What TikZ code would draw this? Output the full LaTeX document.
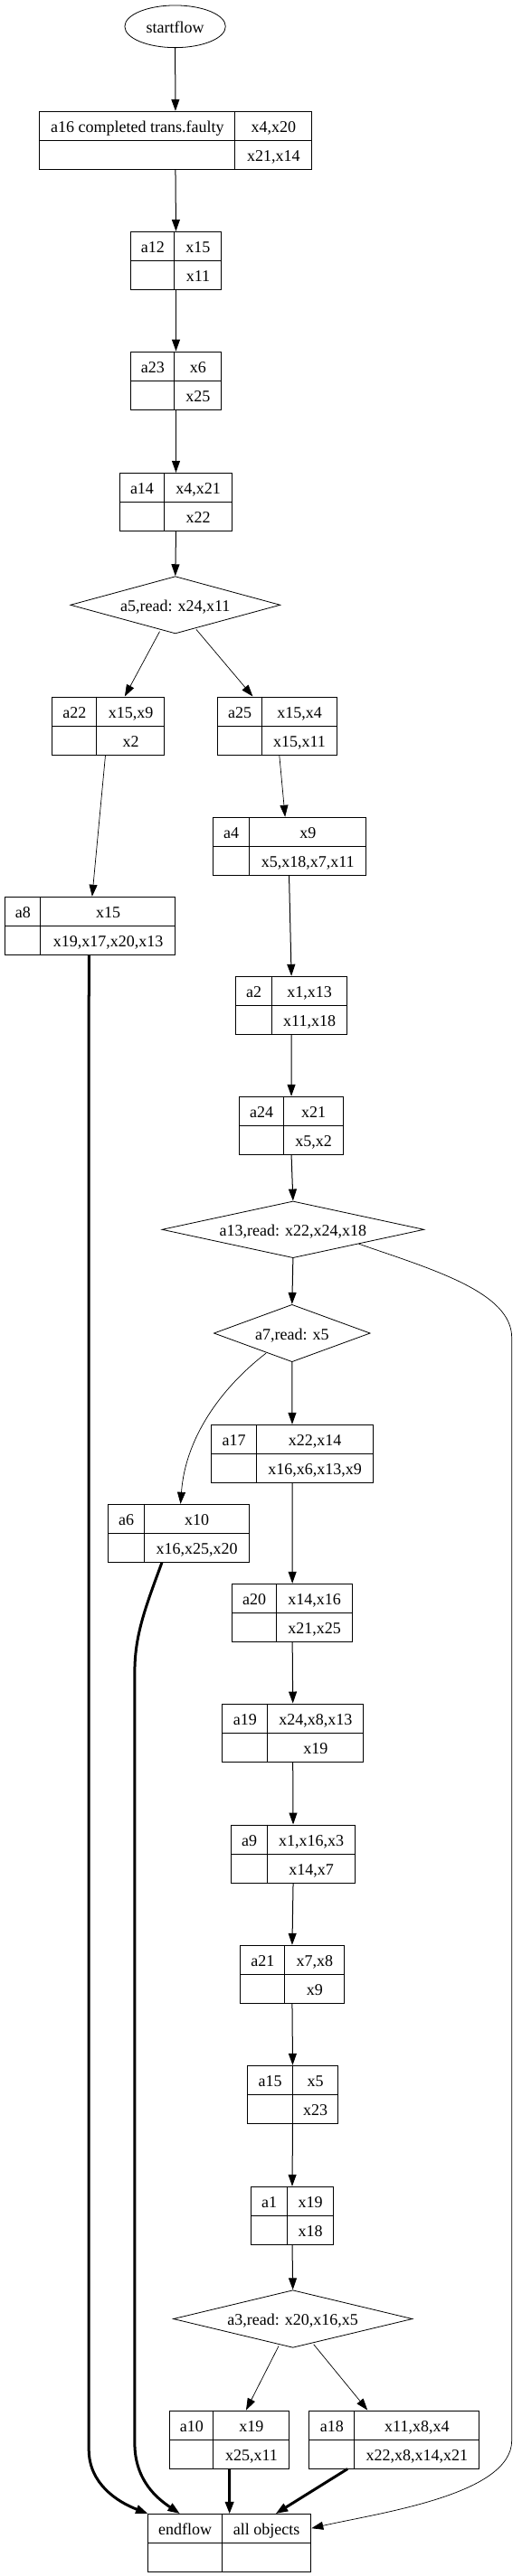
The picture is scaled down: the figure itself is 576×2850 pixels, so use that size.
\documentclass[tikz,border=0pt]{standalone}
\usepackage{fontspec}
\setmainfont{Liberation Serif}
\usetikzlibrary{arrows.meta,shapes.geometric,calc}
\tikzset{
  recbox/.style={draw, line width=1pt, rectangle, inner sep=0pt},
  recline/.style={line width=1pt},
  celltext/.style={inner sep=0pt, text height=14pt, text depth=0pt},
  decision/.style={draw, diamond, line width=0.8pt, inner sep=0pt, text height=14pt, text depth=0pt},
  terminal/.style={draw, ellipse, line width=0.8pt, inner sep=0pt, text height=14pt, text depth=0pt},
  flow/.style={line width=1pt, -{Triangle[length=13pt,width=9pt]}},
  thinflow/.style={line width=0.7pt, -{Triangle[length=13pt,width=9pt,line width=0.7pt]}},
  heavyflow/.style={line width=3pt, -{Triangle[length=13pt,width=10pt,line width=1pt]}},
}
\newcommand\recnode[9]{%
  \pgfmathsetmacro\recW{#3-#2}%
  \pgfmathsetmacro\recH{#5-#4}%
  \pgfmathsetmacro\recCX{(#2+#3)/2}%
  \pgfmathsetmacro\recCY{(#4+#5)/2}%
  \pgfmathsetmacro\recDL{#6-#2}%
  \pgfmathsetmacro\recLX{(#2+#6)/2}%
  \pgfmathsetmacro\recRX{(#6+#3)/2}%
  \pgfmathsetmacro\recYA{#4+\recH/4}%
  \pgfmathsetmacro\recYB{#4+3*\recH/4}%
  \node[recbox, minimum width=\recW pt, minimum height=\recH pt] (#1) at (\recCX,\recCY) {};
  \draw[recline] (#1.west) -- (#1.east);
  \draw[recline] ([xshift=\recDL pt]#1.north west) -- ([xshift=\recDL pt]#1.south west);
  \node[celltext] (#1-l) at (\recLX,\recYA) {#7};
  \node[celltext] (#1-r) at (\recRX,\recYA) {#8};
  \node[celltext] (#1-s) at (\recRX,\recYB) {#9};
}
\begin{document}
\begin{tikzpicture}[x=1pt, y=-1pt, font=\fontsize{18}{20}\selectfont]
\fill[white] (0,0) rectangle (576,2850);
\useasboundingbox (0,0) rectangle (576,2850);

\node[terminal, minimum width=111.4pt, minimum height=46.7pt] (startflow) at (193.6,29.3) {startflow};

\recnode{a16}{43.4}{344.5}{123.3}{187.3}{260.3}{a16 completed trans.faulty}{x4,x20}{x21,x14}
\recnode{a12}{144.5}{244.5}{256.3}{320.3}{193.4}{a12}{x15}{x11}
\recnode{a23}{144.5}{244.5}{389}{453.3}{193.4}{a23}{x6}{x25}
\recnode{a14}{132.4}{256.6}{523.3}{587.3}{181.6}{a14}{x4,x21}{x22}
\node[decision, shape aspect=3.67, minimum width=232pt, minimum height=63.3pt] (a5) at (193.8,669.3) {a5,read: x24,x11};
\recnode{a22}{57.4}{181.6}{771}{835.3}{107.4}{a22}{x15,x9}{x2}
\recnode{a25}{240.4}{372.4}{771}{835.3}{289.7}{a25}{x15,x4}{x15,x11}
\recnode{a4}{235.3}{404.8}{904.3}{968.3}{275.7}{a4}{x9}{x5,x18,x7,x11}
\recnode{a8}{5.5}{193.8}{992.3}{1056.3}{45.2}{a8}{x15}{x19,x17,x20,x13}
\recnode{a2}{260.7}{383.5}{1080.3}{1144.3}{300.7}{a2}{x1,x13}{x11,x18}
\recnode{a24}{264.7}{379.4}{1213.3}{1277}{313.6}{a24}{x21}{x5,x2}
\node[decision, shape aspect=4.62, minimum width=289.8pt, minimum height=62.7pt] (a13) at (323.9,1360.3) {a13,read: x22,x24,x18};
\node[decision, shape aspect=2.73, minimum width=172.8pt, minimum height=63.4pt] (a7) at (322.8,1475) {a7,read: x5};
\recnode{a17}{233.5}{412.5}{1576.3}{1640.3}{283.8}{a17}{x22,x14}{x16,x6,x13,x9}
\recnode{a6}{119.5}{275.4}{1664.3}{1728.3}{159.6}{a6}{x10}{x16,x25,x20}
\recnode{a20}{256.6}{389.7}{1752.3}{1816.3}{305.5}{a20}{x14,x16}{x21,x25}
\recnode{a19}{245.6}{401.8}{1885}{1949.3}{296}{a19}{x24,x8,x13}{x19}
\recnode{a9}{255.5}{392.6}{2019}{2083.3}{295.6}{a9}{x1,x16,x3}{x14,x7}
\recnode{a21}{265.4}{380.5}{2152.3}{2216}{315.4}{a21}{x7,x8}{x9}
\recnode{a15}{273.5}{373.5}{2285.3}{2349.3}{323.5}{a15}{x5}{x23}
\recnode{a1}{277.6}{368.4}{2419.3}{2483.3}{317.6}{a1}{x19}{x18}
\node[decision, shape aspect=4.16, minimum width=264.4pt, minimum height=63.6pt] (a3) at (323.7,2565.5) {a3,read: x20,x16,x5};
\recnode{a10}{187.5}{319.5}{2667}{2731}{236.4}{a10}{x19}{x25,x11}
\recnode{a18}{341.9}{529.8}{2667}{2731}{391.9}{a18}{x11,x8,x4}{x22,x8,x14,x21}
\recnode{endflow}{163.6}{343.8}{2781.3}{2845}{245.6}{endflow}{all objects}{}

% route points
\coordinate (r1) at (565.7,1480);
\coordinate (r2) at (565.7,2700);
\coordinate (t8) at (98.2,2710);
\coordinate (t6a) at (148.9,1850);
\coordinate (t6b) at (148.9,2703);

% main chain
\draw[flow] (startflow.south) -- (a16.north);
\draw[flow] (a16.south) -- (a12.north);
\draw[flow] (a12.south) -- (a23.north);
\draw[flow] (a23.south) -- (a14.north);
\draw[flow] (a14.south) -- (a5.north);
\draw[thinflow] ([xshift=-17.3pt,yshift=2.7pt]a5.south) -- ([xshift=18.4pt]a22.north);
\draw[thinflow] ([xshift=23.1pt,yshift=5pt]a5.south) -- ([xshift=-27pt]a25.north);
\draw[thinflow] ([xshift=2.4pt]a25.south) -- ([xshift=-4.9pt]a4.north);
\draw[thinflow] ([xshift=-3pt]a22.south) -- ([xshift=2.2pt]a8.north);
\draw[flow] ([xshift=-0.5pt]a4.south) -- (a2.north);
\draw[flow] (a2.south) -- (a24.north);
\draw[flow] (a24.south) -- (a13.north);
\draw[flow] (a13.south) -- (a7.north);
\draw[thinflow] (a13.south east) .. controls (480,1405) and (565.7,1430) .. (r1) -- (r2)
  .. controls (565.7,2760) and (420,2780) .. ([yshift=16pt]endflow.east);
\draw[thinflow] ([xshift=-28.7pt,yshift=10pt]a7.south) .. controls (245,1535) and (205,1590) .. ([xshift=2.1pt]a6.north);
\draw[flow] (a7.south) -- (a17.north);
\draw[flow] (a17.south) -- (a20.north);
\draw[flow] (a20.south) -- (a19.north);
\draw[flow] (a19.south) -- (a9.north);
\draw[flow] (a9.south) -- (a21.north);
\draw[flow] (a21.south) -- (a15.north);
\draw[flow] (a15.south) -- (a1.north);
\draw[flow] (a1.south) -- (a3.north);
\draw[thinflow] ([xshift=-15.6pt,yshift=2.3pt]a3.south) -- ([xshift=18.5pt]a10.north);
\draw[thinflow] ([xshift=23pt,yshift=4pt]a3.south) -- ([xshift=-29.6pt]a18.north);

% heavy edges into endflow
\draw[heavyflow] ([xshift=-1.4pt]a8.south) -- (t8) .. controls (98.2,2748) and (130,2768) .. (endflow.north west);
\draw[heavyflow] ([xshift=-18.5pt]a6.south) .. controls (160,1780) and (148.9,1810) .. (t6a) -- (t6b)
  .. controls (148.9,2745) and (175,2765) .. ([xshift=-55.2pt]endflow.north);
\draw[heavyflow] (a10.south) -- (endflow.north);
\draw[heavyflow] ([xshift=-51.7pt]a18.south) -- ([xshift=51.4pt]endflow.north);
\end{tikzpicture}
\end{document}
